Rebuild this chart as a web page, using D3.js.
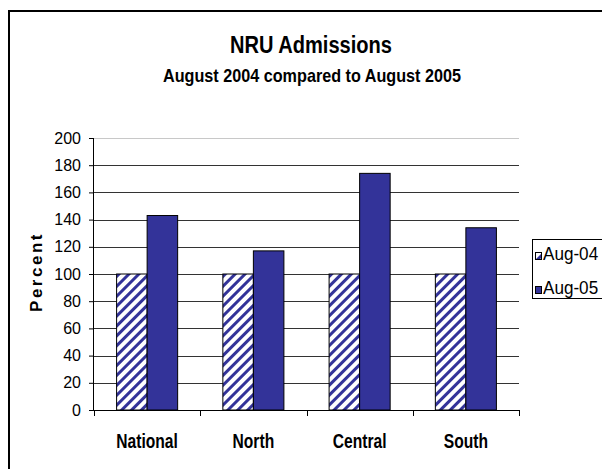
<!DOCTYPE html>
<html><head><meta charset="utf-8">
<script src="https://cdn.jsdelivr.net/npm/d3@7/dist/d3.min.js"></script>
<style>body{margin:0;background:#fff;}svg{display:block;font-family:"Liberation Sans",Arial,sans-serif;}</style>
</head><body>
<svg id="c" width="602" height="469"></svg>
<script>
const categories = ["National", "North", "Central", "South"];
const seriesNames = ["Aug-04", "Aug-05"];
const aug04 = [100, 100, 100, 100];
const aug05 = [143, 117, 174, 134];
const yTicks = [0, 20, 40, 60, 80, 100, 120, 140, 160, 180, 200];

const svg = d3.select("#c");
const defs = svg.append("defs");
const pat = defs.append("pattern").attr("id","hatch").attr("patternUnits","userSpaceOnUse")
  .attr("width",7).attr("height",7).attr("patternTransform","rotate(45)");
pat.append("rect").attr("width",7).attr("height",7).attr("fill","#fff");
pat.append("rect").attr("x",0).attr("width",3).attr("height",7).attr("fill","#333399");

function squeeze(sel, k){
  sel.each(function(){ const w=this.getComputedTextLength(); d3.select(this).attr("textLength",w*k).attr("lengthAdjust","spacingAndGlyphs"); });
}

// frame
svg.append("rect").attr("x",9).attr("y",11).attr("width",620).attr("height",480)
  .attr("fill","#fff").attr("stroke","#000").attr("stroke-width",2);

svg.append("text").attr("x",311).attr("y",53).attr("text-anchor","middle")
  .attr("font-size",23).attr("font-weight","bold").attr("textLength",162).attr("lengthAdjust","spacingAndGlyphs").text("NRU Admissions");
svg.append("text").attr("x",312).attr("y",82).attr("text-anchor","middle")
  .attr("font-size",19).attr("font-weight","bold").attr("textLength",298).attr("lengthAdjust","spacingAndGlyphs").text("August 2004 compared to August 2005");

const x0 = d3.scaleBand().domain(categories).range([94,519]).paddingInner(0).paddingOuter(0);
const x1 = d3.scaleBand().domain(seriesNames).range([22.6, 106.25-22.6]);
const y = d3.scaleLinear().domain([0,200]).range([410,138]);

// gridlines
svg.append("g").selectAll("line").data(yTicks.filter(d=>d>0)).join("line")
  .attr("x1",94).attr("x2",519).attr("y1",d=>Math.round(y(d))+0.5).attr("y2",d=>Math.round(y(d))+0.5)
  .attr("stroke",d=>d===200?"#c8c8c8":"#333").attr("stroke-width",1);

// y axis
const ya = svg.append("g").attr("transform","translate(94,0)")
  .call(d3.axisLeft(y).tickValues(yTicks).tickSize(5).tickPadding(8));
ya.select(".domain").attr("stroke","#000").attr("d","M-0.5,138V410.5");
ya.selectAll(".tick line").attr("stroke","#000");
ya.selectAll("text").attr("font-size",16).attr("fill","#000").attr("font-family","Liberation Sans, Arial, sans-serif");

// x axis
const xa = svg.append("g").attr("transform","translate(0,410)");
xa.append("line").attr("x1",94).attr("x2",519).attr("y1",0.5).attr("y2",0.5).attr("stroke","#000");
const bounds = categories.map(c=>x0(c)).concat([x0(categories[categories.length-1])+x0.bandwidth()]);
xa.selectAll("line.t").data(bounds).join("line").attr("class","t")
  .attr("x1",d=>Math.round(d)+0.5).attr("x2",d=>Math.round(d)+0.5).attr("y1",0).attr("y2",6).attr("stroke","#000");
xa.selectAll("text").data(categories).join("text")
  .attr("x",d=>x0(d)+x0.bandwidth()/2).attr("y",38).attr("text-anchor","middle")
  .attr("font-size",20).attr("font-weight","bold").text(d=>d).call(squeeze,0.78);

// bars
const data = categories.map((c,i)=>({c, vals:[{s:"Aug-04",v:aug04[i]},{s:"Aug-05",v:aug05[i]}]}));
svg.append("g").selectAll("g").data(data).join("g")
  .attr("transform",d=>`translate(${x0(d.c)},0)`)
  .selectAll("rect").data(d=>d.vals).join("rect")
  .attr("x",d=>x1(d.s)).attr("width",x1.bandwidth())
  .attr("y",d=>y(d.v)).attr("height",d=>y(0)-y(d.v))
  .attr("fill",d=>d.s==="Aug-04"?"url(#hatch)":"#333399")
  .attr("stroke","#000").attr("stroke-width",1);

// y label
svg.append("text").attr("transform","translate(42,272) rotate(-90)").attr("text-anchor","middle")
  .attr("font-size",17).attr("font-weight","bold").attr("letter-spacing",2.5).text("Percent");

// legend
svg.append("rect").attr("x",532.5).attr("y",239.5).attr("width",80).attr("height",59)
  .attr("fill","#fff").attr("stroke","#000").attr("stroke-width",1);
const lg = svg.append("g").selectAll("g").data(seriesNames).join("g")
  .attr("transform",(d,i)=>`translate(535,${260+i*34})`);
lg.append("rect").attr("x",0.5).attr("y",-7.5).attr("width",6).attr("height",7)
  .attr("fill",d=>d==="Aug-04"?"url(#hatch)":"#333399").attr("stroke","#000");
lg.append("text").attr("x",8).attr("y",0).attr("font-size",18).text(d=>d).call(squeeze,0.95);
</script>
</body></html>
